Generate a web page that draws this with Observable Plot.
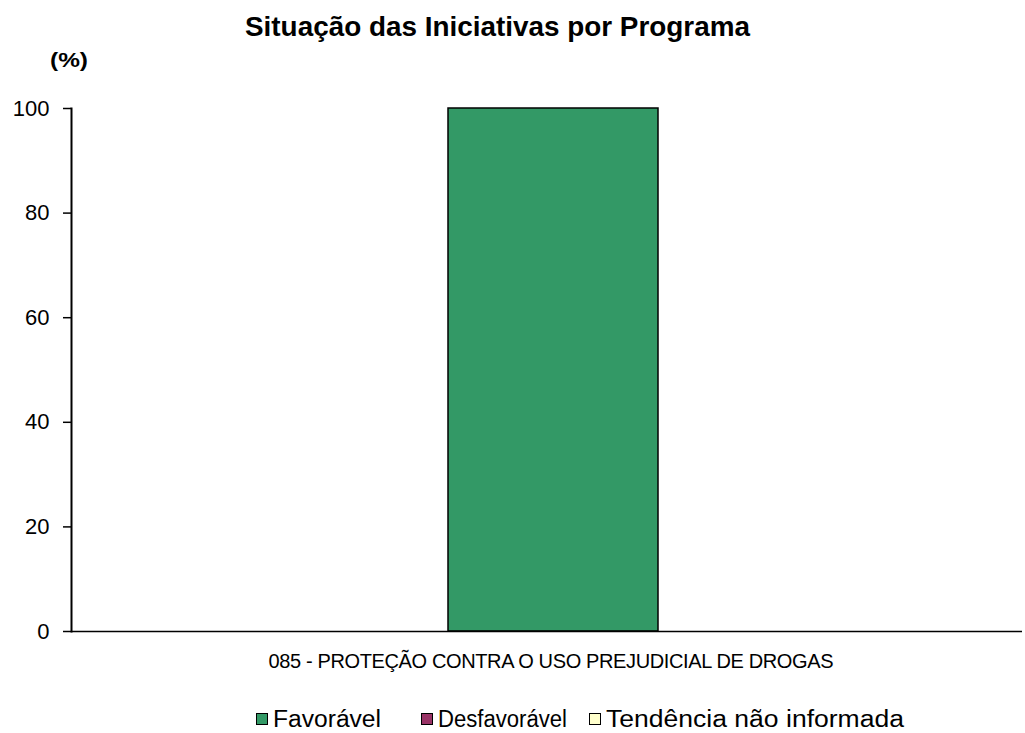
<!DOCTYPE html>
<html>
<head>
<meta charset="utf-8">
<script src="https://cdn.jsdelivr.net/npm/d3@7"></script>
<script src="https://cdn.jsdelivr.net/npm/@observablehq/plot@0.6"></script>
<style>
  body { margin: 0; background: white; }
  #wrap { position: relative; width: 1025px; height: 733px; font-family: "Liberation Sans", Arial, sans-serif; color: black; overflow: hidden; }
  #chart { position: absolute; left: 0; top: 0; }
  .abs { position: absolute; white-space: nowrap; transform-origin: left center; line-height: 1; }
  #title { font-weight: bold; font-size: 28px; top: 13px; }
  #unit { font-weight: bold; font-size: 20px; top: 50px; }
  #legend { position: absolute; top: 708px; left: 0; width: 1025px; height: 22px; }
  .item { position: absolute; top: 0; display: flex; align-items: center; height: 22px; }
  .sw { width: 10px; height: 10px; border: 1.5px solid black; margin-right: 5px; flex: none; }
  .lt { font-size: 23px; line-height: 1; display: inline-block; white-space: nowrap; transform-origin: left center; }
</style>
</head>
<body>
<div id="wrap">
  <div id="chart"></div>
  <span id="title" class="abs">Situação das Iniciativas por Programa</span>
  <span id="unit" class="abs">(%)</span>
  <div id="legend"></div>
</div>
<script>
// ---- data ----
const categories = ["085 - PROTEÇÃO CONTRA O USO PREJUDICIAL DE DROGAS"];
const series = ["Favorável", "Desfavorável", "Tendência não informada"];
const favoravel = [100];
const desfavoravel = [0];
const naoInformada = [0];
const seriesColors = ["#339966", "#993366", "#FFFFCC"];
const yTicks = [0, 20, 40, 60, 80, 100];

const valuesBySeries = [favoravel, desfavoravel, naoInformada];
const data = categories.flatMap((c, i) =>
  series.map((s, j) => ({cat: c, serie: s, value: valuesBySeries[j][i]}))
).filter(d => d.value > 0);

const font = "'Liberation Sans', Arial, sans-serif";

const plot = Plot.plot({
  width: 1025,
  height: 733,
  marginTop: 108,
  marginBottom: 102,
  marginLeft: 71,
  marginRight: 3,
  style: {fontFamily: font, background: "white", color: "black", overflow: "visible"},
  x: {domain: categories, paddingInner: 0, paddingOuter: 1.764, align: 0.509, label: null},
  y: {domain: [0, 100], ticks: yTicks, label: null},
  color: {domain: series, range: seriesColors},
  marks: [
    Plot.barY(data, {x: "cat", y: "value", fill: "serie", stroke: "black", strokeWidth: 1.5}),
    Plot.ruleY([0], {stroke: "black", strokeWidth: 1.5}),
    Plot.frame({anchor: "left", stroke: "black", strokeWidth: 2}),
    Plot.axisY({ticks: yTicks, tickSize: 8, tickPadding: 14, fontSize: 22, label: null, strokeWidth: 1.5, strokeOpacity: 1}),
    Plot.axisX({tickSize: 0, tickPadding: 22, fontSize: 20, label: null, dx: -2.5})
  ]
});
document.getElementById("chart").appendChild(plot);

// the category label in the reference is set with tight letter spacing
plot.querySelectorAll('[aria-label="x-axis tick label"] text').forEach(t => {
  t.setAttribute("textLength", 565);
  t.setAttribute("lengthAdjust", "spacing");
});

function fitHtml(el, left, targetW) {
  const w = el.getBoundingClientRect().width;
  el.style.left = left + "px";
  el.style.transform = `scaleX(${targetW / w})`;
}
fitHtml(document.getElementById("title"), 245, 505);
fitHtml(document.getElementById("unit"), 50, 38);

// legend
const legend = document.getElementById("legend");
const lefts = [256, 421, 589];
const textWidths = [108, 129, 298];
series.forEach((s, i) => {
  const item = document.createElement("div");
  item.className = "item";
  item.style.left = lefts[i] + "px";
  const sw = document.createElement("div");
  sw.className = "sw";
  sw.style.background = seriesColors[i];
  const lt = document.createElement("span");
  lt.className = "lt";
  lt.textContent = s;
  item.appendChild(sw);
  item.appendChild(lt);
  legend.appendChild(item);
  const w = lt.getBoundingClientRect().width;
  lt.style.transform = `scaleX(${textWidths[i] / w})`;
});
</script>
</body>
</html>
